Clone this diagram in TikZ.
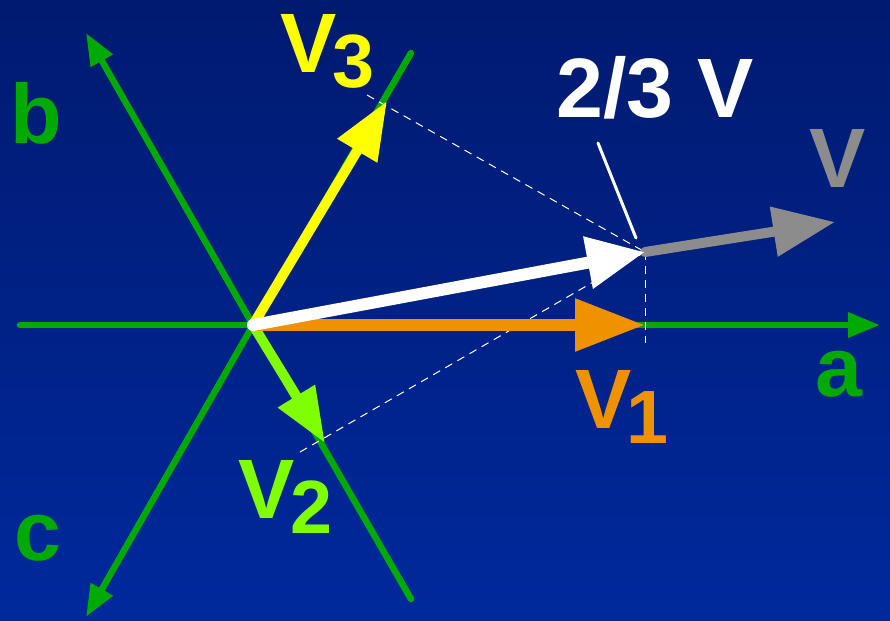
\documentclass[tikz,border=0pt]{standalone}
\usepackage{fontspec}
\setmainfont{Liberation Sans}
\usetikzlibrary{arrows.meta}
\definecolor{colBgTop}{RGB}{0,26,112}
\definecolor{colBgBot}{RGB}{0,41,156}
\definecolor{colAxis}{RGB}{0,170,0}
\definecolor{colVone}{RGB}{240,145,0}
\definecolor{colVtwo}{RGB}{128,255,0}
\definecolor{colVthree}{RGB}{255,255,0}
\definecolor{colVtot}{RGB}{140,140,140}
\tikzset{
    axis/.style={draw=colAxis, line width=1.3mm, line cap=round,
        -{Triangle[length=6.4mm, width=4.8mm]}},
    axisline/.style={draw=colAxis, line width=1.3mm, line cap=round},
    phasor/.style={line width=2.4mm, line cap=round},
    proj/.style={draw=white, line width=0.2mm, dash pattern=on 1.6mm off 1.2mm},
    lbl/.style={inner sep=0pt, anchor=base, font=\bfseries\fontsize{48}{48}\selectfont},
    lblsub/.style={inner sep=0pt, anchor=base west, font=\bfseries\fontsize{48}{48}\selectfont}
}
\newcommand{\subidx}[2][-2.5pt]{\kern#1\raisebox{-9pt}{\fontsize{43}{43}\selectfont #2}}

\begin{document}
\begin{tikzpicture}[x=0.02cm, y=-0.02cm]
    \shade[top color=colBgTop, bottom color=colBgBot] (0,0) rectangle (890,620);
    \useasboundingbox (0,0) rectangle (890,620);

    % origin and tips
    \coordinate (O) at (253,325);
    \coordinate (aStart) at (20,325);
    \coordinate (aEnd) at (880,325);
    \coordinate (bEnd) at (86,33);
    \coordinate (bOpp) at (411,599);
    \coordinate (cEnd) at (86,617);
    \coordinate (cOpp) at (411,53);
    \coordinate (tipOne) at (645,325);
    \coordinate (tipTwo) at (325,443);
    \coordinate (tipThree) at (387,101);
    \coordinate (tipW) at (645,252);
    \coordinate (tipV) at (835,222);

    % axes
    \draw[axis] (aStart) -- (aEnd);
    \draw[axis] (O) -- (bEnd);
    \draw[axisline] (O) -- (bOpp);
    \draw[axis] (O) -- (cEnd);
    \draw[axisline] (O) -- (cOpp);

    % projections
    \coordinate (dThree) at (367,95);
    \coordinate (dTwo) at (300,452);
    \coordinate (dOne) at (645,343);
    \draw[proj] (dThree) -- (tipW);
    \draw[proj] (dTwo) -- (tipW);
    \draw[proj] (tipW) -- (dOne);

    % phase vectors
    \draw[phasor, draw=colVthree, line width=2mm,
        -{Triangle[length=11.6mm, width=8.8mm]}] (O) -- (tipThree);
    \draw[phasor, draw=colVtwo, line width=2mm,
        -{Triangle[length=11mm, width=8.2mm]}] (O) -- (tipTwo);
    \draw[phasor, draw=colVtot, line width=2mm,
        -{Triangle[length=12.4mm, width=9.6mm]}] (tipW) -- (tipV);
    \draw[phasor, draw=colVone,
        -{Triangle[length=14mm, width=10mm]}] (O) -- (tipOne);
    \draw[phasor, draw=white,
        -{Triangle[length=11.6mm, width=10mm]}] (O) -- (tipW);

    % labels
    \node[lbl, text=colAxis] (la) at (839,396) {a};
    \node[lbl, text=colAxis] (lb) at (36,143) {b};
    \node[lbl, text=colAxis] (lc) at (38,560) {c};
    \node[lblsub, text=colVone] (lone) at (575,428) {V\subidx[-3pt]{1}};
    \node[lblsub, text=colVtwo] (ltwo) at (238,518) {V\subidx{2}};
    \node[lblsub, text=colVthree] (lthree) at (280,72) {V\subidx{3}};
    \node[lbl, text=colVtot] (lv) at (838,187) {V};
    \node[lbl, text=white] (lw) at (655,117) {2/3 V};
    \coordinate (ptrStart) at (598,143);
    \coordinate (ptrEnd) at (636,238);
    \draw[white, line width=0.6mm, line cap=round] (ptrStart) -- (ptrEnd);
\end{tikzpicture}
\end{document}
